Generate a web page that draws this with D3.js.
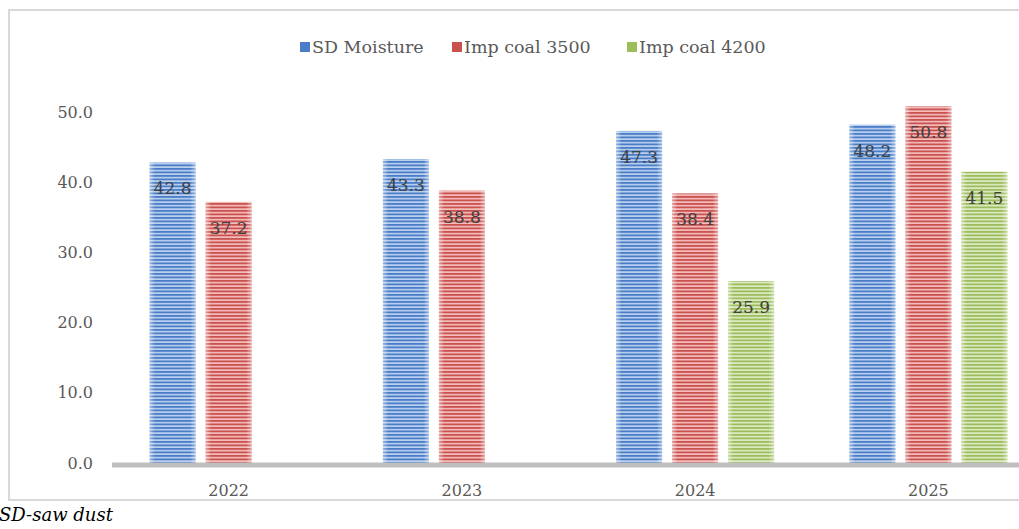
<!DOCTYPE html>
<html>
<head>
<script type="text/javascript" src="https://cdn.jsdelivr.net/npm/d3@7"></script>
<title>SD moisture vs imported coal</title>
<style>
body { margin: 0; background: #fff; }
svg text { font-family: "DejaVu Serif", serif; }
</style>
</head>
<body>
<div id="viz"></div>
<script type="text/javascript">

var years = ["2022", "2023", "2024", "2025"];
var seriesNames = ["SD Moisture", "Imp coal 3500", "Imp coal 4200"];
var sdMoisture = [42.8, 43.3, 47.3, 48.2];
var impCoal3500 = [37.2, 38.8, 38.4, 50.8];
var impCoal4200 = [null, null, 25.9, 41.5];
var yTicks = [0, 10, 20, 30, 40, 50];

var seriesValues = [sdMoisture, impCoal3500, impCoal4200];
var colors = [
    {dark: "#4a7cc7", light: "#b9d0ee", id: "pBlue"},
    {dark: "#c9514e", light: "#f3bcbb", id: "pRed"},
    {dark: "#9bbd5a", light: "#dde9c4", id: "pGreen"}
];

var W = 1019, H = 529;
var svg = d3.select("#viz").append("svg")
    .attr("width", W).attr("height", H);

// striped fills
var defs = svg.append("defs");
colors.forEach(function(c){
    var p = defs.append("pattern")
        .attr("id", c.id)
        .attr("patternUnits", "userSpaceOnUse")
        .attr("width", 8).attr("height", 3.5);
    p.append("rect").attr("width", 8).attr("height", 3.5).attr("fill", c.light);
    p.append("rect").attr("width", 8).attr("height", 1.8).attr("fill", c.dark);
});
// soft light edges on each bar
var edge = defs.append("linearGradient").attr("id", "edgeGlow")
    .attr("x1", "0%").attr("x2", "100%");
edge.append("stop").attr("offset", "0%").attr("stop-color", "#fff").attr("stop-opacity", 0.45);
edge.append("stop").attr("offset", "12%").attr("stop-color", "#fff").attr("stop-opacity", 0);
edge.append("stop").attr("offset", "88%").attr("stop-color", "#fff").attr("stop-opacity", 0);
edge.append("stop").attr("offset", "100%").attr("stop-color", "#fff").attr("stop-opacity", 0.45);

// outer frame
svg.append("rect")
    .attr("x", 9).attr("y", 10)
    .attr("width", 1040).attr("height", 490)
    .attr("fill", "none")
    .attr("stroke", "#d9d9d9")
    .attr("stroke-width", 2);

var x0 = d3.scaleBand().domain(years).range([112, 1045]);
var x1 = d3.scaleBand().domain(seriesNames).range([-79, 79]).paddingInner(10 / 56);
var y = d3.scaleLinear().domain([0, 50]).range([463, 112]);

// y axis labels
svg.append("g").selectAll("text")
    .data(yTicks)
    .enter().append("text")
    .attr("x", 93)
    .attr("y", function(d){ return y(d); })
    .attr("dy", "0.35em")
    .attr("text-anchor", "end")
    .attr("font-size", 16)
    .attr("fill", "#595959")
    .text(function(d){ return d.toFixed(1); });

// bars
var groups = svg.append("g").selectAll("g")
    .data(years)
    .enter().append("g")
    .attr("transform", function(d){ return "translate(" + (x0(d) + x0.bandwidth() / 2) + ",0)"; });

groups.each(function(yr, i){
    var g = d3.select(this);
    var rows = seriesNames.map(function(s, k){ return {s: s, k: k, v: seriesValues[k][i]}; })
        .filter(function(r){ return r.v != null; });
    g.selectAll("rect.bar")
        .data(rows)
        .enter().append("rect")
        .attr("class", "bar")
        .attr("x", function(r){ return x1(r.s); })
        .attr("width", x1.bandwidth())
        .attr("y", function(r){ return y(r.v); })
        .attr("height", function(r){ return y(0) - y(r.v); })
        .attr("fill", function(r){ return "url(#" + colors[r.k].id + ")"; });
    g.selectAll("rect.glow")
        .data(rows)
        .enter().append("rect")
        .attr("class", "glow")
        .attr("x", function(r){ return x1(r.s); })
        .attr("width", x1.bandwidth())
        .attr("y", function(r){ return y(r.v); })
        .attr("height", function(r){ return y(0) - y(r.v); })
        .attr("fill", "url(#edgeGlow)");
    g.selectAll("text")
        .data(rows)
        .enter().append("text")
        .attr("x", function(r){ return x1(r.s) + x1.bandwidth() / 2; })
        .attr("y", function(r){ return y(r.v) + 26; })
        .attr("dy", "0.35em")
        .attr("text-anchor", "middle")
        .attr("font-size", 17)
        .attr("fill", "#404040")
        .text(function(r){ return r.v.toFixed(1); });
});

// x axis
svg.append("line")
    .attr("x1", 112).attr("x2", 1045)
    .attr("y1", y(0) + 2).attr("y2", y(0) + 2)
    .attr("stroke", "#bfbfbf")
    .attr("stroke-width", 5);

svg.append("g").selectAll("text")
    .data(years)
    .enter().append("text")
    .attr("x", function(d){ return x0(d) + x0.bandwidth() / 2; })
    .attr("y", 490)
    .attr("dy", "0.35em")
    .attr("text-anchor", "middle")
    .attr("font-size", 16)
    .attr("fill", "#595959")
    .text(function(d){ return d; });

// legend
var legendX = [300, 452, 627];
var legend = svg.append("g").selectAll("g")
    .data(seriesNames)
    .enter().append("g")
    .attr("transform", function(d, i){ return "translate(" + legendX[i] + ",47)"; });
legend.append("rect")
    .attr("x", 0).attr("y", -5)
    .attr("width", 10).attr("height", 10)
    .attr("fill", function(d, i){ return colors[i].dark; });
legend.append("text")
    .attr("x", 12)
    .attr("dy", "0.35em")
    .attr("font-size", 17.5)
    .attr("fill", "#595959")
    .text(function(d){ return d; });

// footnote
svg.append("text")
    .attr("x", -1).attr("y", 521)
    .attr("font-size", 18)
    .attr("font-style", "italic")
    .attr("fill", "#000")
    .text("SD-saw dust");

</script>
</body>
</html>
